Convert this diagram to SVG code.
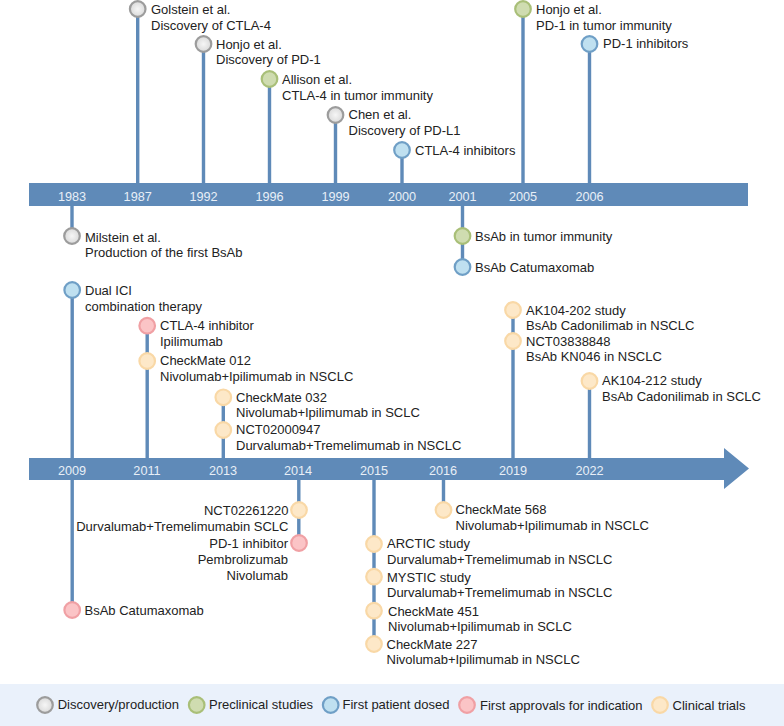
<svg xmlns="http://www.w3.org/2000/svg" width="784" height="726" viewBox="0 0 784 726">
<defs>
<radialGradient id="gd"><stop offset="0" stop-color="#f6f6f6"/><stop offset="1" stop-color="#dadada"/></radialGradient>
</defs>
<style>
text{font-family:"Liberation Sans",Arial,sans-serif;font-size:13px;fill:#222}
.y{fill:#e8eff7;text-anchor:middle;font-size:12.700px}
.r{text-anchor:end}
.bar{fill:#5f8ab8}
.c{stroke:#5f8ab8;stroke-width:3.400;fill:none}
circle{stroke-width:2.200}
.d{fill:url(#gd);stroke:#9c9c9c}
.p{fill:#cfdcb0;stroke:#a9bf78}
.f{fill:#bfe0f0;stroke:#6f9fc6}
.a{fill:#fbc4c6;stroke:#f0a0a4}
.t{fill:#fde8c8;stroke:#f9d8a6}
</style>
<rect x="0" y="684" width="784" height="42" fill="#eaf1fb"/>
<g id="connectors">
<path class="c" d="M137.700 9V184M203.500 44V184M269.500 79V184M335.500 115V184M402 150V184M523 9V184M589.500 44V184M72 206V236M462.500 206V267M72.200 290V458M147.200 326V458M223.300 397V458M513 310V458M589.500 381V458M72.200 480V610M298.800 480V543M374 480V644M443.500 480V510"/>
</g>
<g id="axis-top"><rect class="bar" x="29" y="183" width="719" height="23"/></g>
<g id="axis-bottom"><path class="bar" d="M29 458H724V448L749 468.500L724 489V480H29Z"/></g>
<g id="years-top">
<text class="y" x="72" y="201">1983</text><text class="y" x="137.700" y="201">1987</text><text class="y" x="203.500" y="201">1992</text><text class="y" x="269.500" y="201">1996</text><text class="y" x="335.500" y="201">1999</text><text class="y" x="402" y="201">2000</text><text class="y" x="462.500" y="201">2001</text><text class="y" x="523" y="201">2005</text><text class="y" x="589.500" y="201">2006</text>
</g>
<g id="years-bottom">
<text class="y" x="72" y="475">2009</text><text class="y" x="147" y="475">2011</text><text class="y" x="223" y="475">2013</text><text class="y" x="298" y="475">2014</text><text class="y" x="374" y="475">2015</text><text class="y" x="443" y="475">2016</text><text class="y" x="513" y="475">2019</text><text class="y" x="589.500" y="475">2022</text>
</g>
<g id="n-golstein"><circle class="d" cx="137.700" cy="9" r="7.800"/><text x="151" y="14">Golstein et al.</text><text x="151" y="30">Discovery of CTLA-4</text></g>
<g id="n-honjo1"><circle class="d" cx="203.500" cy="44" r="7.800"/><text x="216" y="48.500">Honjo et al.</text><text x="216" y="64">Discovery of PD-1</text></g>
<g id="n-allison"><circle class="p" cx="269.500" cy="79" r="7.800"/><text x="282" y="84">Allison et al.</text><text x="282" y="99.500">CTLA-4 in tumor immunity</text></g>
<g id="n-chen"><circle class="d" cx="335.500" cy="115" r="7.800"/><text x="348.500" y="119">Chen et al.</text><text x="348.500" y="134.500">Discovery of PD-L1</text></g>
<g id="n-ctla4inh"><circle class="f" cx="402" cy="150" r="7.800"/><text x="415" y="155">CTLA-4 inhibitors</text></g>
<g id="n-honjo2"><circle class="p" cx="523" cy="9" r="7.800"/><text x="536" y="14">Honjo et al.</text><text x="536" y="30">PD-1 in tumor immunity</text></g>
<g id="n-pd1inh"><circle class="f" cx="589.500" cy="44" r="7.800"/><text x="603" y="48">PD-1 inhibitors</text></g>
<g id="n-milstein"><circle class="d" cx="72" cy="236" r="7.800"/><text x="85" y="241.500">Milstein et al.</text><text x="85" y="257">Production of the first BsAb</text></g>
<g id="n-bsab-tumor"><circle class="p" cx="462.500" cy="236" r="7.800"/><text x="475" y="241">BsAb in tumor immunity</text></g>
<g id="n-bsab-cat1"><circle class="f" cx="462.500" cy="267" r="7.800"/><text x="475" y="272">BsAb Catumaxomab</text></g>
<g id="n-dual"><circle class="f" cx="72.200" cy="290" r="7.800"/><text x="85" y="295">Dual ICI</text><text x="85" y="310.700">combination therapy</text></g>
<g id="n-ipi"><circle class="a" cx="147.200" cy="325.700" r="7.800"/><text x="160" y="330">CTLA-4 inhibitor</text><text x="160" y="345.700">Ipilimumab</text></g>
<g id="n-cm012"><circle class="t" cx="147.200" cy="361" r="7.800"/><text x="160" y="365.300">CheckMate 012</text><text x="160" y="381">Nivolumab+Ipilimumab in NSCLC</text></g>
<g id="n-cm032"><circle class="t" cx="223.300" cy="397.300" r="7.800"/><text x="236" y="401.700">CheckMate 032</text><text x="236" y="417">Nivolumab+Ipilimumab in SCLC</text></g>
<g id="n-nct0200"><circle class="t" cx="223.300" cy="430" r="7.800"/><text x="236" y="434">NCT02000947</text><text x="236" y="450">Durvalumab+Tremelimumab in NSCLC</text></g>
<g id="n-ak202"><circle class="t" cx="513" cy="310" r="7.800"/><text x="526" y="315">AK104-202 study</text><text x="526" y="330">BsAb Cadonilimab in NSCLC</text></g>
<g id="n-nct0383"><circle class="t" cx="513" cy="341" r="7.800"/><text x="526" y="346">NCT03838848</text><text x="526" y="361">BsAb KN046 in NSCLC</text></g>
<g id="n-ak212"><circle class="t" cx="589.500" cy="381" r="7.800"/><text x="602" y="385">AK104-212 study</text><text x="602" y="401">BsAb Cadonilimab in SCLC</text></g>
<g id="n-cat2"><circle class="a" cx="72.200" cy="610" r="7.800"/><text x="84.500" y="615">BsAb Catumaxomab</text></g>
<g id="n-nct0226"><circle class="t" cx="299" cy="510" r="7.800"/><text class="r" x="288.500" y="515">NCT02261220</text><text class="r" x="288.500" y="531">Durvalumab+Tremelimumabin SCLC</text></g>
<g id="n-pd1"><circle class="a" cx="299" cy="543" r="7.800"/><text class="r" x="288" y="548">PD-1 inhibitor</text><text class="r" x="288" y="564">Pembrolizumab</text><text class="r" x="288" y="580">Nivolumab</text></g>
<g id="n-arctic"><circle class="t" cx="374" cy="544" r="7.800"/><text x="387" y="548.300">ARCTIC study</text><text x="387" y="564">Durvalumab+Tremelimumab in NSCLC</text></g>
<g id="n-mystic"><circle class="t" cx="374" cy="576.700" r="7.800"/><text x="387" y="581.700">MYSTIC study</text><text x="387" y="597">Durvalumab+Tremelimumab in NSCLC</text></g>
<g id="n-cm451"><circle class="t" cx="374" cy="610.700" r="7.800"/><text x="388" y="616">CheckMate 451</text><text x="388" y="631">Nivolumab+Ipilimumab in SCLC</text></g>
<g id="n-cm227"><circle class="t" cx="374" cy="644" r="7.800"/><text x="386.500" y="649">CheckMate 227</text><text x="386.500" y="664">Nivolumab+Ipilimumab in NSCLC</text></g>
<g id="n-cm568"><circle class="t" cx="443.500" cy="510" r="7.800"/><text x="455.500" y="514.300">CheckMate 568</text><text x="455.500" y="530">Nivolumab+Ipilimumab in NSCLC</text></g>
<g id="legend">
<circle class="d" cx="45" cy="705" r="7.800"/><text x="57.700" y="708.700">Discovery/production</text>
<circle class="p" cx="196.700" cy="705" r="7.800"/><text x="209" y="708.700">Preclinical studies</text>
<circle class="f" cx="330.700" cy="705" r="7.800"/><text x="342.500" y="708.700">First patient dosed</text>
<circle class="a" cx="467" cy="705" r="7.800"/><text x="480" y="710">First approvals for indication</text>
<circle class="t" cx="660" cy="705" r="7.800"/><text x="672.500" y="710">Clinical trials</text>
</g>
</svg>
